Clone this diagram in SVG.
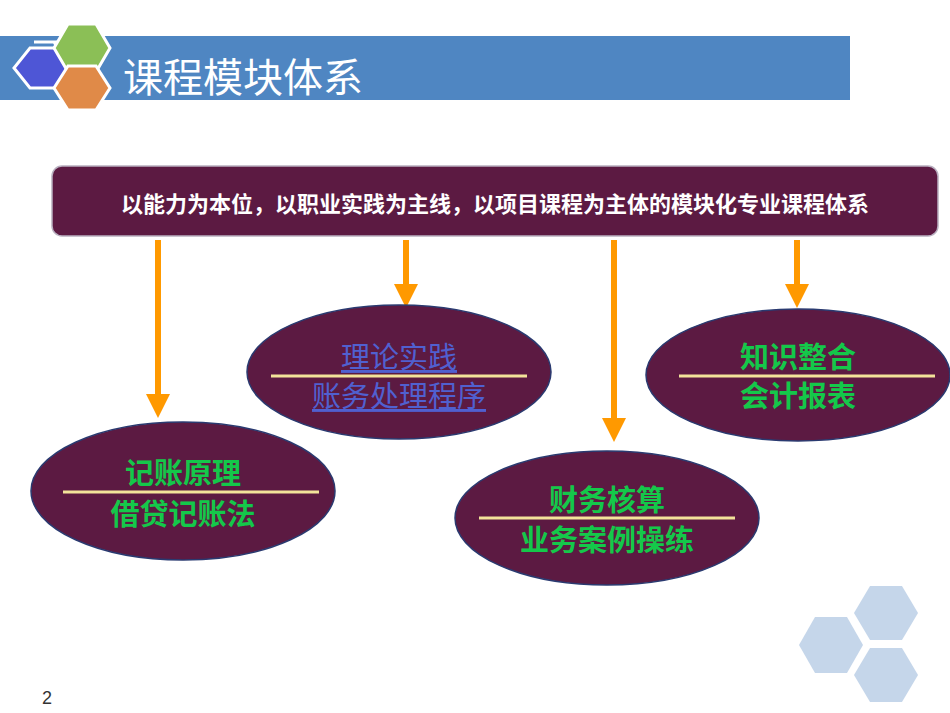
<svg xmlns="http://www.w3.org/2000/svg" width="950" height="713" viewBox="0 0 950 713">
<defs>
<style>
.hex{stroke:#fff;stroke-width:3}
.ell{fill:#5c1a42;stroke:#2a3a70;stroke-width:1.5}
.sep{stroke:#f3e39a;stroke-width:3}
.t{font-family:"Noto Sans CJK SC",sans-serif;font-size:29px;text-anchor:middle;fill:#14c84a;font-weight:bold}
.u{font-family:"Noto Sans CJK SC",sans-serif;font-size:29px;text-anchor:middle;fill:#5060d0;text-decoration:underline}
.ar{stroke:#ff9900;stroke-width:6}
.ah{fill:#ff9900}
</style>
</defs>
<rect x="0" y="36" width="850" height="64" fill="#4f86c2"/>
<g id="hexes">
<polygon class="hex" points="34,42 54,42 66,62 78,42" fill="none" stroke="none"/>
<polygon class="hex" points="30,48 62,48 78,68 62,88 30,88 14,68" fill="#4e56d6"/>
<polygon class="hex" points="68,24 96,24 110,48 96,72 68,72 54,48" fill="#8bbf56"/>
<polygon class="hex" points="68,66 96,66 110,88 96,110 68,110 54,88" fill="#e08a48"/>
</g>
<text x="123" y="92" font-family="Noto Sans CJK SC,sans-serif" font-size="40" fill="#fff">课程模块体系</text>
<g id="top">
<rect x="52" y="166" width="886" height="70" rx="10" fill="#5c1a42" stroke="#b9b0c0" stroke-width="1.5"/>
<text x="495" y="212" font-family="Noto Sans CJK SC,sans-serif" font-size="22" font-weight="bold" fill="#fff" text-anchor="middle">以能力为本位，以职业实践为主线，以项目课程为主体的模块化专业课程体系</text>
</g>
<g id="connectors">
<line class="ar" x1="158" y1="240" x2="158" y2="396"/><polygon class="ah" points="146,394 170,394 158,418"/>
<line class="ar" x1="406" y1="240" x2="406" y2="286"/><polygon class="ah" points="394,284 418,284 406,308"/>
<line class="ar" x1="614" y1="240" x2="614" y2="420"/><polygon class="ah" points="602,418 626,418 614,442"/>
<line class="ar" x1="797" y1="240" x2="797" y2="286"/><polygon class="ah" points="785,284 809,284 797,308"/>
</g>
<g id="n1"><ellipse class="ell" cx="183" cy="491" rx="152" ry="69"/><line class="sep" x1="63" y1="492" x2="319" y2="492"/>
<text class="t" x="183" y="484">记账原理</text><text class="t" x="183" y="525">借贷记账法</text></g>
<g id="n2"><ellipse class="ell" cx="399" cy="372" rx="152" ry="67"/><line class="sep" x1="271" y1="376" x2="527" y2="376"/>
<text class="u" x="399" y="368">理论实践</text><text class="u" x="399" y="407">账务处理程序</text></g>
<g id="n3"><ellipse class="ell" cx="607" cy="518" rx="152" ry="67"/><line class="sep" x1="479" y1="518" x2="735" y2="518"/>
<text class="t" x="607" y="511">财务核算</text><text class="t" x="607" y="551">业务案例操练</text></g>
<g id="n4"><ellipse class="ell" cx="798" cy="375" rx="152" ry="66"/><line class="sep" x1="679" y1="376" x2="935" y2="376"/>
<text class="t" x="798" y="368">知识整合</text><text class="t" x="798" y="407">会计报表</text></g>
<g id="deco" fill="#c5d6ea">
<polygon points="870,586 902,586 918,613 902,640 870,640 854,613"/>
<polygon points="815,617 847,617 863,645 847,673 815,673 799,645"/>
<polygon points="870,648 902,648 918,675 902,702 870,702 854,675"/>
</g>
<text x="42" y="704" font-family="Liberation Sans,sans-serif" font-size="18" fill="#333">2</text>
</svg>
